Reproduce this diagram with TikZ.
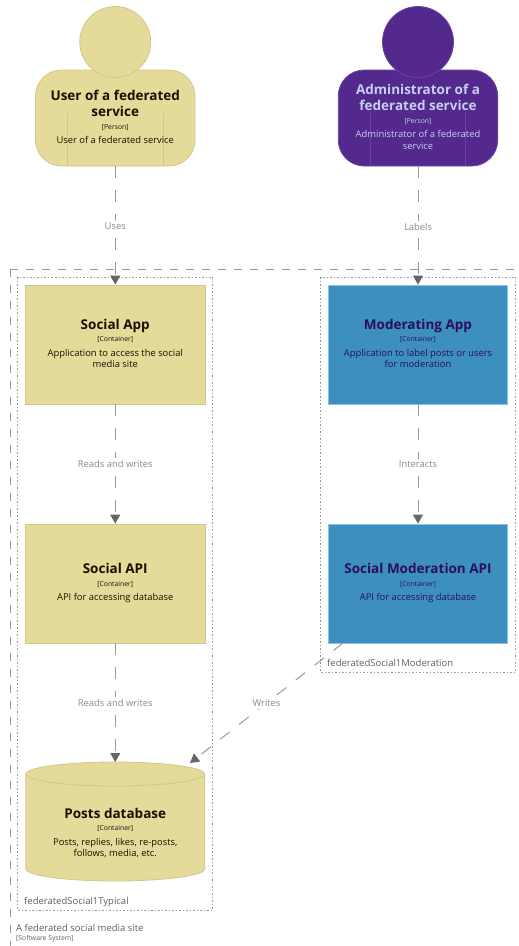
\documentclass[tikz,border=0pt]{standalone}
\usepackage{fontspec}
\setmainfont{Open Sans}
\usetikzlibrary{arrows.meta,shapes.geometric,calc}
\definecolor{yel}{HTML}{E4DB9A}
\definecolor{yelline}{HTML}{D0C78C}
\definecolor{yeltext}{HTML}{1A0F00}
\definecolor{pur}{HTML}{53298E}
\definecolor{purline}{HTML}{6A45A0}
\definecolor{purtext}{HTML}{C5CFF0}
\definecolor{blu}{HTML}{3D8FBF}
\definecolor{bluline}{HTML}{8FC0DE}
\definecolor{blutext}{HTML}{2A0F5A}
\definecolor{edge}{HTML}{999999}
\definecolor{edgetext}{HTML}{8A8A8A}
\definecolor{grptext}{HTML}{5F5F5F}
\newcommand{\card}[3]{{\fontsize{13.5}{16}\selectfont\bfseries #1\par}\vspace{3.5pt}{\fontsize{6.8}{9}\selectfont [#2]\par}\vspace{2.5pt}{\fontsize{9.4}{11.8}\selectfont #3\par}}
\tikzset{x=1pt,y=-1pt,
 boxnode/.style={rectangle,minimum width=179.5pt,minimum height=119pt,inner sep=0pt,text width=158pt,align=flush center,line width=.8pt},
 yelbox/.style={boxnode,fill=yel,draw=yelline,text=yeltext},
 blubox/.style={boxnode,fill=blu,draw=bluline,text=blutext},
 cardtext/.style={inner sep=0pt,align=flush center},
 bodyshape/.style={rectangle,rounded corners=26pt,minimum width=159.5pt,minimum height=96pt,inner sep=0pt,line width=.8pt},
 headshape/.style={circle,minimum size=71pt,inner sep=0pt,line width=.8pt},
 rel/.style={draw=edge,line width=1pt,dash pattern=on 12pt off 12pt,-{Triangle[length=9pt,width=10pt,color=black!60]}},
 rellabel/.style={fill=white,inner sep=2pt,text=edgetext,font=\fontsize{9.4}{12}\selectfont},
 grouprect/.style={draw=black!40,line width=.6pt,dash pattern=on 1.5pt off 2pt},
 grouplabel/.style={text=grptext,font=\fontsize{9.5}{12}\selectfont,inner sep=0pt,anchor=west},
}
\begin{document}
\begin{tikzpicture}
\useasboundingbox (0,0) rectangle (519,946);
% system boundary
\coordinate (sysTL) at (10,269);
\coordinate (sysTR) at (519,269);
\coordinate (sysBL) at (10,946);
\draw[black!40,line width=.9pt,dash pattern=on 8pt off 8pt] (sysTL) -- (sysTR);
\draw[black!40,line width=.9pt,dash pattern=on 8pt off 8pt] (sysTL) -- (sysBL);
\node[grouplabel] (syslabel) at (16,928) {A federated social media site};
\node[grouplabel,text=grptext,font=\fontsize{6.8}{9}\selectfont] (systype) at (16,939) {[Software System]};
% groups
\draw[grouprect] (17.5,277) rectangle (212.5,910);
\draw[grouprect] (320.5,277) rectangle (515.5,672);
\node[grouplabel] (typlabel) at (24,901.5) {federatedSocial1Typical};
\node[grouplabel] (modlabel) at (327,663) {federatedSocial1Moderation};
% boxes
\coordinate (appC) at (115.25,344.5);
\coordinate (apiC) at (115.25,583.5);
\coordinate (modappC) at (418,344.5);
\coordinate (modapiC) at (418,583.5);
\node[yelbox] (app) at (appC) {};
\node[cardtext,text width=158pt,text=yeltext] (apptext) at (115.25,343.5) {\card{Social App}{Container}{Application to access the social media site}};
\node[yelbox] (api) at (apiC) {};
\node[cardtext,text width=158pt,text=yeltext] (apitext) at (115.25,583) {\card{Social API}{Container}{API for accessing database}};
\node[blubox] (modapp) at (modappC) {};
\node[cardtext,text width=158pt,text=blutext] (modapptext) at (418,343.5) {\card{Moderating App}{Container}{Application to label posts or users for moderation}};
\node[blubox] (modapi) at (modapiC) {};
\node[cardtext,text width=158pt,text=blutext] (modapitext) at (418,583) {\card{Social Moderation API}{Container}{API for accessing database}};
% database
\coordinate (dbT) at (115.25,762);
\filldraw[fill=yel,draw=yelline,line width=.8pt] (25.75,774) -- (25.75,869) .. controls (25.75,875.6) and (65.8,881) .. (115.25,881) .. controls (164.7,881) and (204.75,875.6) .. (204.75,869) -- (204.75,774) -- cycle;
\filldraw[fill=yel,draw=yelline,line width=.8pt] (115.25,774) ellipse [x radius=89.5,y radius=12];
\node[cardtext,text width=158pt,text=yeltext] (db) at (115.25,833) {\card{Posts database}{Container}{Posts, replies, likes, re-posts, follows, media, etc.}};
% persons
\node[bodyshape,fill=yel,draw=yelline] (userbody) at (115.25,118) {};
\node[headshape,fill=yel,draw=yelline] (userhead) at (115.25,42) {};
\draw[yelline,line width=.6pt] (67.5,113) -- (67.5,166) (163,113) -- (163,166);
\node[cardtext,text width=150pt,text=yeltext] (usertext) at (115.25,117) {\card{User of a federated service}{Person}{User of a federated service}};
\node[bodyshape,fill=pur,draw=purline] (adminbody) at (418,118) {};
\node[headshape,fill=pur,draw=purline] (adminhead) at (418,42) {};
\draw[purline,line width=.6pt] (370.5,113) -- (370.5,166) (465.5,113) -- (465.5,166);
\node[cardtext,text width=150pt,text=purtext] (admintext) at (418,117) {\card{Administrator of a federated service}{Person}{Administrator of a federated service}};
% connectors
\draw[rel] (userbody.south) -- node[rellabel,yshift=-1pt] {Uses} (app.north);
\draw[rel] (adminbody.south) -- node[rellabel,yshift=-1pt] {Labels} (modapp.north);
\draw[rel] (app.south) -- node[rellabel] {Reads and writes} (api.north);
\draw[rel] (api.south) -- node[rellabel] {Reads and writes} (dbT);
\draw[rel] (modapp.south) -- node[rellabel] {Interacts} (modapi.north);
\coordinate (wS) at (343,643);
\coordinate (wE) at (190,763);
\draw[rel] (wS) -- node[rellabel] {Writes} (wE);
\end{tikzpicture}
\end{document}
